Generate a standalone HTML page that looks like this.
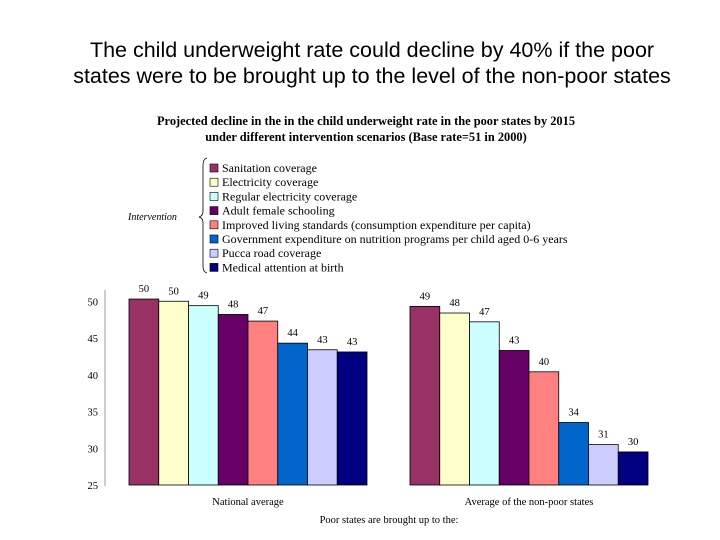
<!DOCTYPE html>
<html><head><meta charset="utf-8"><style>
body{margin:0;background:#fff;width:720px;height:540px;overflow:hidden}
svg{display:block}
</style></head><body>
<svg width="720" height="540" xmlns="http://www.w3.org/2000/svg">
<text x="372" y="57" font-family="Liberation Sans, sans-serif" font-size="21.5" text-anchor="middle">The child underweight rate could decline by 40% if the poor</text>
<text x="372" y="83" font-family="Liberation Sans, sans-serif" font-size="21.5" text-anchor="middle">states were to be brought up to the level of the non-poor states</text>
<text x="366" y="125" font-family="Liberation Serif, serif" font-size="12.4" font-weight="bold" text-anchor="middle">Projected decline in the in the child underweight rate in the poor states by 2015</text>
<text x="366" y="141" font-family="Liberation Serif, serif" font-size="12.4" font-weight="bold" text-anchor="middle">under different intervention scenarios (Base rate=51 in 2000)</text>
<text x="128" y="220" font-family="Liberation Serif, serif" font-size="10" font-style="italic">Intervention</text>
<path d="M207,158 Q203,159 203,165 L203,211 Q203,216 199,217 Q203,218 203,223 L203,266 Q203,272 207,273" fill="none" stroke="#000" stroke-width="0.8"/>
<g id="legend"></g>
<line x1="105" y1="290" x2="105" y2="486" stroke="#999" stroke-width="1"/>
<g id="yticks"></g>
<g id="bars"></g>
<text x="389" y="523" font-family="Liberation Serif, serif" font-size="10.5" text-anchor="middle">Poor states are brought up to the:</text>
</svg>
<script>
const categories=["National average","Average of the non-poor states"];
const seriesNames=["Sanitation coverage","Electricity coverage","Regular electricity coverage","Adult female schooling","Improved living standards (consumption expenditure per capita)","Government expenditure on nutrition programs per child aged 0-6 years","Pucca road coverage","Medical attention at birth"];
const seriesColors=["#993366","#ffffcc","#ccffff","#660066","#ff8080","#0066cc","#ccccff","#000080"];
const national=[50.3,50,49.4,48.2,47.3,44.3,43.4,43.1];
const nonPoor=[49.3,48.4,47.2,43.3,40.4,33.5,30.5,29.5];
const nationalLabels=["50","50","49","48","47","44","43","43"];
const nonPoorLabels=["49","48","47","43","40","34","31","30"];
const yTicks=[25,30,35,40,45,50];
const NS="http://www.w3.org/2000/svg";
function y(v){return 485-(v-25)*7.35;}
const groupX=[129,410], barW=29.75;
function mk(tag,attrs,parent,txt){const e=document.createElementNS(NS,tag);for(const k in attrs)e.setAttribute(k,attrs[k]);if(txt!==undefined)e.textContent=txt;parent.appendChild(e);return e;}
const yt=document.getElementById('yticks');
yTicks.forEach(t=>{const e=mk('text',{x:98,y:y(t)+4,'font-family':'Liberation Serif, serif','font-size':10.5,'text-anchor':'end'},yt,String(t));

});
const lg=document.getElementById('legend');
seriesNames.forEach((n,i)=>{const yy=165+i*14.2;
const r=mk('rect',{x:210,y:yy-1,width:8,height:8,fill:seriesColors[i],stroke:'#000','stroke-width':0.6},lg);


const t=mk('text',{x:222,y:yy+7,'font-family':'Liberation Serif, serif','font-size':12},lg,n);

});
const bg=document.getElementById('bars');
[national,nonPoor].forEach((vals,g)=>{const labs=g===0?nationalLabels:nonPoorLabels;
vals.forEach((v,i)=>{const x=groupX[g]+i*barW;
const r=mk('rect',{x:x,y:y(v),width:barW,height:485-y(v),fill:seriesColors[i],stroke:'#000','stroke-width':0.8},bg);


const t=mk('text',{x:x+barW/2,y:y(v)-7,'font-family':'Liberation Serif, serif','font-size':10.5,'text-anchor':'middle'},bg,labs[i]);

});
const c=mk('text',{x:groupX[g]+barW*4,y:505,'font-family':'Liberation Serif, serif','font-size':10.5,'text-anchor':'middle'},bg,categories[g]);

});
</script>
</body></html>
